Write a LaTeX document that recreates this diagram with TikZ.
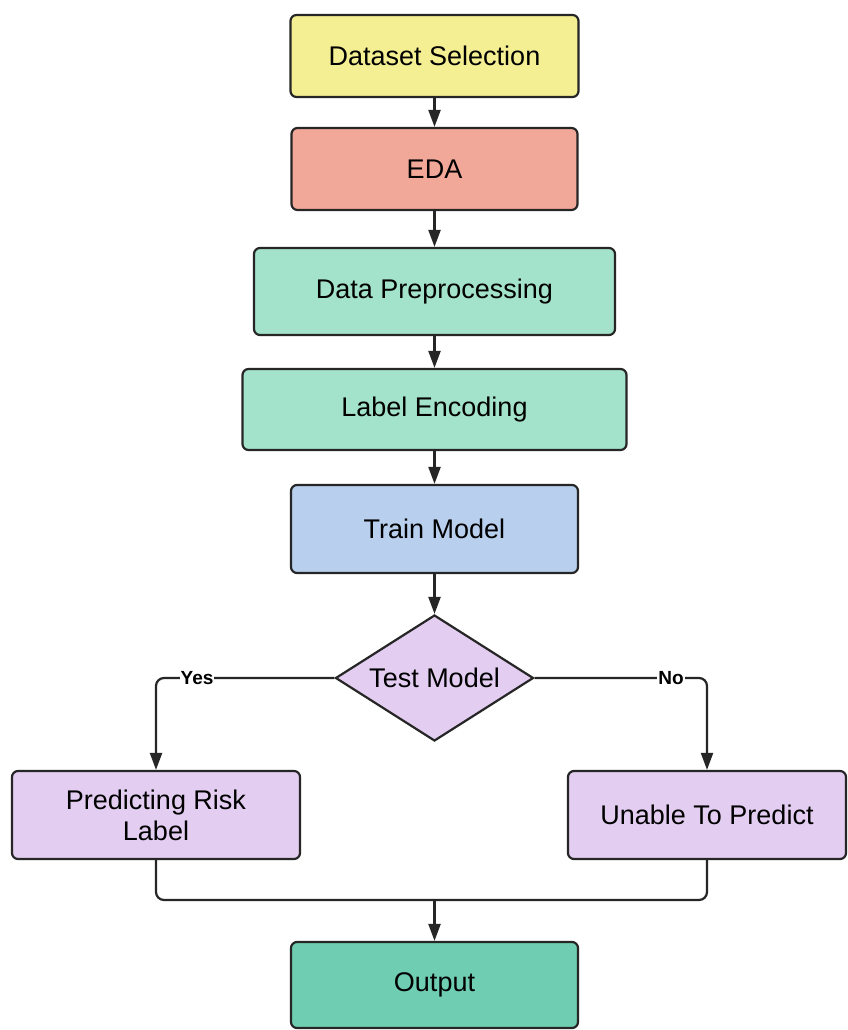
\documentclass[tikz,border=0pt]{standalone}
\usepackage{fontspec}
\setmainfont{Liberation Sans}
\usetikzlibrary{shapes.geometric,arrows.meta}
\definecolor{cyellow}{HTML}{F4EF92}
\definecolor{csalmon}{HTML}{F2A899}
\definecolor{cmint}{HTML}{A3E2CB}
\definecolor{cblue}{HTML}{B8CFEE}
\definecolor{clav}{HTML}{E3CDF1}
\definecolor{cteal}{HTML}{6FCDB2}
\definecolor{cline}{HTML}{262626}
\tikzset{
  x=1pt, y=-1pt,
  box/.style={draw=cline, line width=2.2pt, rounded corners=6pt, inner sep=0pt,
    align=center, font=\fontsize{27}{31}\selectfont, text=black},
  decision/.style={diamond, draw=cline, line width=2.2pt, inner sep=0pt,
    fill=clav, font=\fontsize{27}{31}\selectfont, text=black},
  flow/.style={draw=cline, line width=2.2pt, -{Triangle[length=17pt,width=12pt]}},
  wire/.style={draw=cline, line width=2.2pt, rounded corners=8pt},
  tag/.style={fill=white, inner sep=1pt, font=\fontsize{19}{22}\selectfont\bfseries, text=black}
}
\begin{document}
\begin{tikzpicture}
\useasboundingbox[fill=white] (0,0) rectangle (847,1030);
\node[box, fill=cyellow, minimum width=288pt, minimum height=82pt] (ds) at (434.5,56) {Dataset Selection};
\node[box, fill=csalmon, minimum width=286pt, minimum height=82pt] (eda) at (434.5,169) {EDA};
\node[box, fill=cmint, minimum width=361pt, minimum height=87pt] (pre) at (434.5,291.5) {Data Preprocessing};
\node[box, fill=cmint, minimum width=384pt, minimum height=81pt] (enc) at (434.5,409.5) {Label Encoding};
\node[box, fill=cblue, minimum width=287pt, minimum height=88pt] (train) at (434.5,529) {Train Model};
\node[decision, minimum width=198pt, minimum height=126pt] (test) at (434.5,678) {\makebox[0pt]{Test Model}};
\node[box, fill=clav, minimum width=288pt, minimum height=88pt] (pred) at (156,815) {Predicting Risk\\Label};
\node[box, fill=clav, minimum width=278pt, minimum height=88pt] (unable) at (707,815) {Unable To Predict};
\node[box, fill=cteal, minimum width=287pt, minimum height=86pt] (out) at (434.5,985) {Output};
\coordinate (join) at (434.5,900);

\draw[flow] (ds) -- (eda);
\draw[flow] (eda) -- (pre);
\draw[flow] (pre) -- (enc);
\draw[flow] (enc) -- (train);
\draw[flow] (train) -- (test);
\draw[flow, rounded corners=8pt] (test.west) -| (pred.north);
\draw[flow, rounded corners=8pt] (test.east) -| (unable.north);
\node[tag] (yes) at (197,678) {Yes};
\node[tag] (no) at (671,678) {No};
\draw[wire] (pred.south) |- (join) -| (unable.south);
\draw[flow] (join) -- (out.north);
\end{tikzpicture}
\end{document}
